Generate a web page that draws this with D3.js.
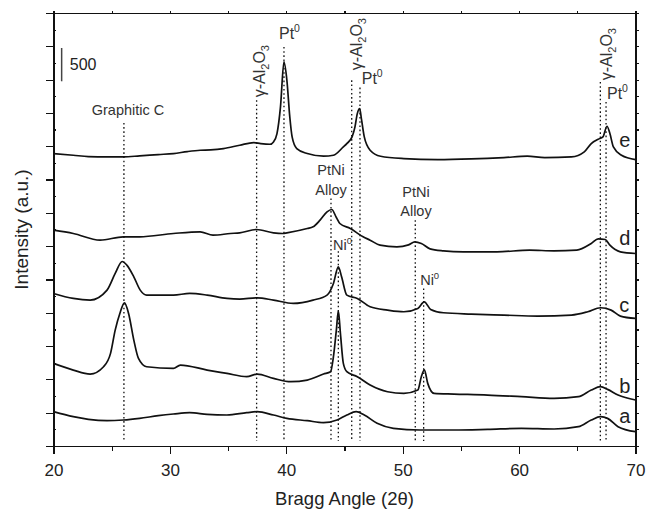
<!DOCTYPE html>
<html>
<head>
<meta charset="utf-8">
<script src="https://cdn.jsdelivr.net/npm/d3@7"></script>
<style>
  body { margin: 0; background: #fff; }
  svg { display: block; font-family: "Liberation Sans", Arial, sans-serif; }
  .axis path, .axis line { stroke: #111; stroke-width: 1.2; shape-rendering: crispEdges; }
  .axis text { fill: #222; font-size: 17px; font-family: "Liberation Sans", Arial, sans-serif; }
</style>
</head>
<body>
<svg id="chart" width="647" height="509"></svg>
<script>
// XRD patterns, stacked (angle 2theta, counts incl. offset)
let traceA = [[20,515],[21.7,440],[23,400],[24.6,380],[26,390],[27.4,415],[29,455],[30.3,480],[31.7,500],[33.2,475],[34.9,465],[36.6,500],[37.5,515],[38.9,465],[40.05,415],[41.8,380],[43.2,350],[44.36,390],[45.2,465],[46,515],[46.7,465],[47.8,340],[49.2,265],[51.5,240],[54.4,240],[57.3,250],[60.2,265],[63,255],[65.1,290],[66.2,390],[67,440],[67.6,415],[68.5,290],[70,215]];
let traceB = [[20,1240],[21.7,1140],[23.15,1080],[24.3,1190],[24.9,1390],[25.3,1740],[25.7,1990],[26.1,2150],[26.45,1990],[26.9,1590],[27.3,1315],[28,1190],[30.3,1165],[30.9,1215],[33.2,1140],[34.9,1090],[36.6,1040],[37.5,1080],[38.9,1015],[40.4,965],[41.8,990],[43.2,1080],[43.8,1115],[44.05,1340],[44.3,1740],[44.47,2030],[44.65,1690],[44.9,1240],[45.2,1115],[46.1,1040],[47.2,915],[48.7,815],[50.1,790],[51.3,840],[51.6,1040],[51.86,1145],[52.15,940],[52.7,790],[54.4,780],[57.3,765],[60.2,740],[63,715],[65.1,740],[66.2,840],[67,890],[67.6,850],[68.5,765],[70,690]];
let traceC = [[20,2290],[21.7,2215],[23.15,2190],[24.6,2340],[25.3,2590],[25.9,2770],[26.3,2715],[26.9,2540],[27.45,2340],[28,2265],[30.3,2265],[31.7,2290],[33.2,2265],[34.9,2215],[36,2205],[37.5,2225],[38.9,2190],[40.6,2140],[42.3,2190],[43.5,2265],[44.05,2440],[44.47,2690],[44.75,2540],[45.2,2265],[46.1,2215],[47.2,2090],[48.7,2040],[50.1,2015],[51.3,2065],[51.85,2165],[52.4,2050],[53.5,2000],[55.9,1980],[58.7,1965],[61.6,1950],[64.5,1965],[65.9,2015],[67,2075],[67.9,2040],[68.7,1950],[70,1915]];
let traceD = [[20,3240],[21.7,3190],[24,3090],[26,3140],[27.4,3140],[30.3,3190],[32.6,3215],[33.7,3165],[35.2,3190],[36,3200],[37.45,3250],[38.9,3200],[39.7,3190],[40.05,3200],[41.8,3265],[42.3,3290],[42.9,3390],[43.5,3515],[43.9,3550],[44.3,3430],[44.6,3340],[45.5,3265],[46.6,3140],[47.2,3090],[48.05,3015],[49.5,2990],[50.5,3020],[51.05,3065],[51.6,3040],[52.35,2960],[53.5,2930],[55.2,2915],[58.1,2915],[60.9,2940],[63,2930],[64.95,2940],[66.2,3040],[66.8,3110],[67.4,3100],[67.8,3015],[68.7,2915],[70,2890]];
let traceE = [[20,4390],[21.7,4365],[23,4345],[24.6,4340],[26,4340],[27.4,4355],[29,4375],[30.3,4390],[31.5,4420],[32.6,4440],[33.5,4445],[34.6,4465],[36,4515],[37.2,4555],[37.8,4540],[38.6,4530],[38.9,4565],[39.2,4690],[39.5,5090],[39.8,5765],[40.05,5490],[40.3,4940],[40.5,4640],[40.9,4465],[41.8,4390],[43.2,4350],[44.05,4365],[44.9,4490],[45.2,4540],[45.65,4640],[45.9,4790],[46.1,4990],[46.3,5065],[46.45,4915],[46.7,4640],[47.2,4440],[48.1,4350],[50.1,4315],[53,4300],[55.9,4310],[58.7,4330],[60.7,4350],[62.2,4330],[64.5,4340],[65.6,4415],[66.2,4540],[66.8,4605],[67.2,4640],[67.55,4800],[67.8,4690],[68.1,4490],[68.8,4365],[70,4300]];

let traces = [traceA, traceB, traceC, traceD, traceE];
let traceNames = ["a", "b", "c", "d", "e"];
let traceLabelY = [340, 790, 2015, 3015, 4490];

// reference positions (2theta) and the intensity where each dotted marker starts
let refAngles = [26.05, 37.45, 39.8, 43.84, 44.47, 45.62, 46.33, 51.08, 51.8, 66.98, 67.47];
let refTops = [4850, 5190, 5990, 3715, 2925, 5490, 5380, 3390, 2365, 5465, 5165];

let xTicks = [20, 30, 40, 50, 60, 70];

let width = 647;
let height = 509;
let svg = d3.select("#chart");

let x = d3.scaleLinear().domain([20, 70]).range([53.5, 635.5]);
let y = d3.scaleLinear().domain([0, 6500]).range([446, 13]);

// AXES
svg.append("g").attr("class", "axis")
  .attr("transform", "translate(0,446)")
  .call(d3.axisBottom(x).tickValues(xTicks).tickSize(8).tickSizeOuter(0).tickPadding(10));
svg.append("g").attr("class", "axis minor")
  .attr("transform", "translate(0,446)")
  .call(d3.axisBottom(x).tickValues(d3.range(25, 70, 10)).tickSize(5).tickFormat(""))
  .select(".domain").remove();

svg.append("g").attr("class", "axis")
  .attr("transform", "translate(0,13)")
  .call(d3.axisTop(x).tickValues(d3.range(20, 71, 5)).tickSize(2).tickSizeOuter(0).tickFormat(""));

svg.append("g").attr("class", "axis")
  .attr("transform", "translate(53.5,0)")
  .call(d3.axisLeft(y).tickValues(d3.range(0, 6501, 500)).tickSize(8).tickSizeOuter(0).tickFormat(""));
svg.append("g").attr("class", "axis minor")
  .attr("transform", "translate(53.5,0)")
  .call(d3.axisRight(y).tickValues(d3.range(250, 6500, 500)).tickSize(2).tickFormat(""))
  .select(".domain").remove();

svg.append("g").attr("class", "axis")
  .attr("transform", "translate(635.5,0)")
  .call(d3.axisRight(y).tickValues(d3.range(0, 6501, 250)).tickSize(3).tickSizeOuter(0).tickFormat(""));

// axis titles
svg.append("text")
  .attr("x", 344.5).attr("y", 505)
  .attr("text-anchor", "middle")
  .attr("font-size", 18.5).attr("fill", "#222")
  .text("Bragg Angle (2θ)");
svg.append("text")
  .attr("transform", "translate(28," + ((13 + 446) / 2) + ")rotate(-90)")
  .attr("text-anchor", "middle")
  .attr("font-size", 19).attr("fill", "#222")
  .text("Intensity (a.u.)");

// DOTTED MARKERS
svg.selectAll("line.ref")
  .data(refAngles)
  .enter().append("line")
    .classed("ref", true)
    .attr("x1", function(d) { return x(d); })
    .attr("x2", function(d) { return x(d); })
    .attr("y1", function(d, i) { return y(refTops[i]); })
    .attr("y2", y(75))
    .attr("stroke", "#111")
    .attr("stroke-width", 1.3)
    .attr("stroke-dasharray", "1.6,2.6");

// TRACES
let line = d3.line()
  .x(function(d) { return x(d[0]); })
  .y(function(d) { return y(d[1]); })
  .curve(d3.curveMonotoneX);

svg.selectAll("path.trace")
  .data(traces)
  .enter().append("path")
    .classed("trace", true)
    .attr("d", line)
    .attr("fill", "none")
    .attr("stroke", "#111")
    .attr("stroke-width", 1.7)
    .attr("stroke-linejoin", "round");

svg.selectAll("text.tname")
  .data(traceNames)
  .enter().append("text")
    .classed("tname", true)
    .attr("x", x(68.6))
    .attr("y", function(d, i) { return y(traceLabelY[i]); })
    .attr("font-size", 20).attr("fill", "#222")
    .text(function(d) { return d; });

// scale bar
svg.append("line")
  .attr("x1", x(20.7)).attr("x2", x(20.7))
  .attr("y1", y(5475)).attr("y2", y(5975))
  .attr("stroke", "#444").attr("stroke-width", 1.5);
svg.append("text")
  .attr("x", x(21.4)).attr("y", y(5650))
  .attr("font-size", 16).attr("fill", "#222")
  .text("500");

// ANNOTATIONS
let labelColor = "#333";

svg.append("text")
  .attr("x", x(26.4)).attr("y", y(4975))
  .attr("text-anchor", "middle")
  .attr("font-size", 14.5).attr("fill", labelColor)
  .text("Graphitic C");

function supLabel(angle, val, main, sup) {
  let t = svg.append("text")
    .attr("x", x(angle)).attr("y", y(val))
    .attr("font-size", 16).attr("fill", labelColor);
  t.append("tspan").text(main);
  t.append("tspan").attr("font-size", 10.5).attr("dy", -7).text(sup);
}
supLabel(39.37, 6115, "Pt", "0");
supLabel(46.48, 5440, "Pt", "0");
supLabel(67.55, 5205, "Pt", "0");

function aluminaLabel(angle, val) {
  let t = svg.append("text")
    .attr("transform", "translate(" + x(angle) + "," + y(val) + ")rotate(-90)")
    .attr("font-size", 16).attr("fill", labelColor);
  t.append("tspan").text("γ-Al");
  t.append("tspan").attr("font-size", 11).attr("dy", 4).text("2");
  t.append("tspan").attr("dy", -4).text("O");
  t.append("tspan").attr("font-size", 11).attr("dy", 4).text("3");
}
aluminaLabel(38.17, 5235);
aluminaLabel(46.5, 5640);
aluminaLabel(67.95, 5490);

function alloyLabel(angle, v1, v2) {
  svg.append("text")
    .attr("x", x(angle)).attr("y", y(v1))
    .attr("text-anchor", "middle")
    .attr("font-size", 14.5).attr("fill", labelColor)
    .text("PtNi");
  svg.append("text")
    .attr("x", x(angle)).attr("y", y(v2))
    .attr("text-anchor", "middle")
    .attr("font-size", 14.5).attr("fill", labelColor)
    .text("Alloy");
}
alloyLabel(43.84, 4065, 3765);
alloyLabel(51.14, 3740, 3450);

function niLabel(angle, val) {
  let t = svg.append("text")
    .attr("x", x(angle)).attr("y", y(val))
    .attr("font-size", 14.5).attr("fill", labelColor);
  t.append("tspan").text("Ni");
  t.append("tspan").attr("font-size", 9.5).attr("dy", -6).text("0");
}
niLabel(44.01, 2940);
niLabel(51.5, 2415);
</script>
</body>
</html>
